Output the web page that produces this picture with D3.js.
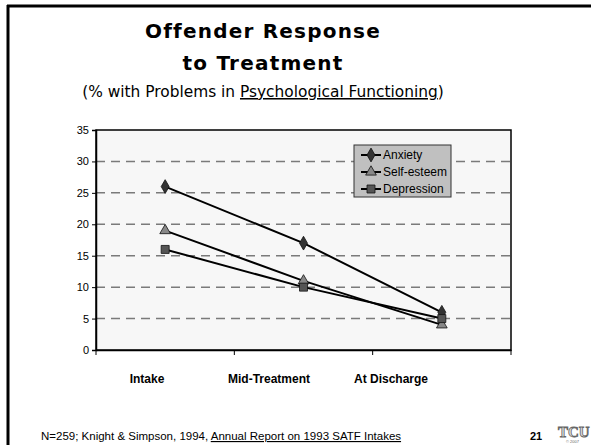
<!DOCTYPE html>
<html>
<head>
<meta charset="utf-8">
<script src="https://cdn.jsdelivr.net/npm/d3@7"></script>
<style>
  body { margin: 0; background: #fff; }
  svg { display: block; }
</style>
</head>
<body>
<div id="chart"></div>
<script>
// data
const categories = ["Intake", "Mid-Treatment", "At Discharge"];
const anxiety = [26, 17, 6];
const selfEsteem = [19, 11, 4];
const depression = [16, 10, 5];
const yTicks = [0, 5, 10, 15, 20, 25, 30, 35];

const series = [
  {name: "Anxiety", values: anxiety, symbol: d3.symbolDiamond, fill: "#333333", size: 55},
  {name: "Self-esteem", values: selfEsteem, symbol: d3.symbolTriangle, fill: "#888888", size: 50},
  {name: "Depression", values: depression, symbol: d3.symbolSquare, fill: "#555555", size: 64}
];

const W = 591, H = 445;
const svg = d3.select("#chart").append("svg").attr("width", W).attr("height", H);

// slide frame
svg.append("line").attr("x1", 7).attr("x2", W).attr("y1", 6).attr("y2", 6)
   .attr("stroke", "#000").attr("stroke-width", 3);
svg.append("line").attr("x1", 8).attr("x2", 8).attr("y1", 5).attr("y2", H)
   .attr("stroke", "#000").attr("stroke-width", 3);

// titles
const cx = 263;
svg.append("text").attr("x", cx).attr("y", 38).attr("text-anchor", "middle")
   .style("font", "bold 20px 'DejaVu Sans'").style("letter-spacing", "1.2px").text("Offender Response");
svg.append("text").attr("x", cx).attr("y", 70).attr("text-anchor", "middle")
   .style("font", "bold 20px 'DejaVu Sans'").style("letter-spacing", "1.2px").text("to Treatment");
const sub = svg.append("text").attr("x", cx).attr("y", 97).attr("text-anchor", "middle")
   .style("font", "15.4px 'DejaVu Sans'");
sub.append("tspan").text("(% with Problems in ");
sub.append("tspan").attr("text-decoration", "underline").text("Psychological Functioning");
sub.append("tspan").text(")");

// plot
const m = {left: 96, right: 511, top: 130, bottom: 350};
const x = d3.scaleBand().domain(categories).range([m.left, m.right]);
const y = d3.scaleLinear().domain([0, 35]).range([m.bottom, m.top]);

svg.append("rect").attr("x", m.left).attr("y", m.top)
   .attr("width", m.right - m.left).attr("height", m.bottom - m.top)
   .attr("fill", "#f7f7f7").attr("stroke", "#000").attr("stroke-width", 1.5);

svg.append("g").selectAll("line").data(yTicks.filter(d => d > 0 && d < 35)).join("line")
   .attr("x1", m.left).attr("x2", m.right)
   .attr("y1", d => y(d)).attr("y2", d => y(d))
   .attr("stroke", "#7a7a7a").attr("stroke-width", 1.5).attr("stroke-dasharray", "9,6");

const yAxis = svg.append("g").attr("transform", `translate(${m.left},0)`)
   .call(d3.axisLeft(y).tickValues(yTicks).tickSize(4).tickPadding(3));
yAxis.select(".domain").attr("stroke-width", 1.5);
yAxis.selectAll("text").style("font", "11px 'Liberation Sans'").attr("fill", "#000");

const xAxis = svg.append("g").attr("transform", `translate(0,${m.bottom})`)
   .call(d3.axisBottom(x).tickSize(0).tickFormat(""));
xAxis.select(".domain").attr("stroke-width", 1.5);
svg.append("g").selectAll("line")
   .data([m.left, ...categories.slice(1).map(c => x(c)), m.right]).join("line")
   .attr("x1", d => d).attr("x2", d => d)
   .attr("y1", m.bottom).attr("y2", m.bottom + 5).attr("stroke", "#000");

// category labels sit in their own text boxes on the slide, not under the bands
const labelX = d3.scalePoint().domain(categories).range([147, 391]);
svg.append("g").selectAll("text").data(categories).join("text")
   .attr("x", d => labelX(d)).attr("y", 383)
   .attr("text-anchor", "middle")
   .style("font", "bold 12px 'Liberation Sans'").text(d => d);

const line = d3.line().x((d, i) => x(categories[i]) + x.bandwidth() / 2).y(d => y(d));
series.forEach(s => {
  svg.append("path").datum(s.values).attr("d", line)
     .attr("fill", "none").attr("stroke", "#000").attr("stroke-width", 2);
});
series.forEach(s => {
  svg.append("g").selectAll("path").data(s.values).join("path")
     .attr("transform", (d, i) => `translate(${x(categories[i]) + x.bandwidth() / 2},${y(d)})`)
     .attr("d", d3.symbol(s.symbol, s.size))
     .attr("fill", s.fill).attr("stroke", "#111").attr("stroke-width", 0.8);
});

// legend
const lg = svg.append("g");
lg.append("rect").attr("x", 354).attr("y", 145).attr("width", 97).attr("height", 52)
  .attr("fill", "#c0c0c0").attr("stroke", "#333").attr("stroke-width", 1);
series.forEach((s, i) => {
  const ly = 155 + i * 17;
  lg.append("line").attr("x1", 361).attr("x2", 381).attr("y1", ly).attr("y2", ly)
    .attr("stroke", "#000").attr("stroke-width", 2);
  lg.append("path").attr("transform", `translate(371,${ly})`)
    .attr("d", d3.symbol(s.symbol, s.size))
    .attr("fill", s.fill).attr("stroke", "#111").attr("stroke-width", 0.8);
  lg.append("text").attr("x", 383).attr("y", ly + 4)
    .style("font", "12px 'Liberation Sans Narrow', 'Liberation Sans'")
    .text(s.name);
});

// footer
const ft = svg.append("text").attr("x", 41).attr("y", 440)
   .style("font", "11.5px 'Liberation Sans'");
ft.append("tspan").text("N=259; Knight & Simpson, 1994, ");
ft.append("tspan").attr("text-decoration", "underline").text("Annual Report on 1993 SATF Intakes");

svg.append("text").attr("x", 530).attr("y", 440)
   .style("font", "bold 11px 'Liberation Sans'").text("21");
svg.append("text").attr("x", 558).attr("y", 437)
   .style("font", "bold 15px 'Liberation Serif'").attr("fill", "#ddd")
   .attr("stroke", "#666").attr("stroke-width", 0.8).text("TCU");
svg.append("text").attr("x", 566).attr("y", 443)
   .style("font", "4px 'Liberation Sans'").attr("fill", "#666").text("© 2007");
</script>
</body>
</html>
